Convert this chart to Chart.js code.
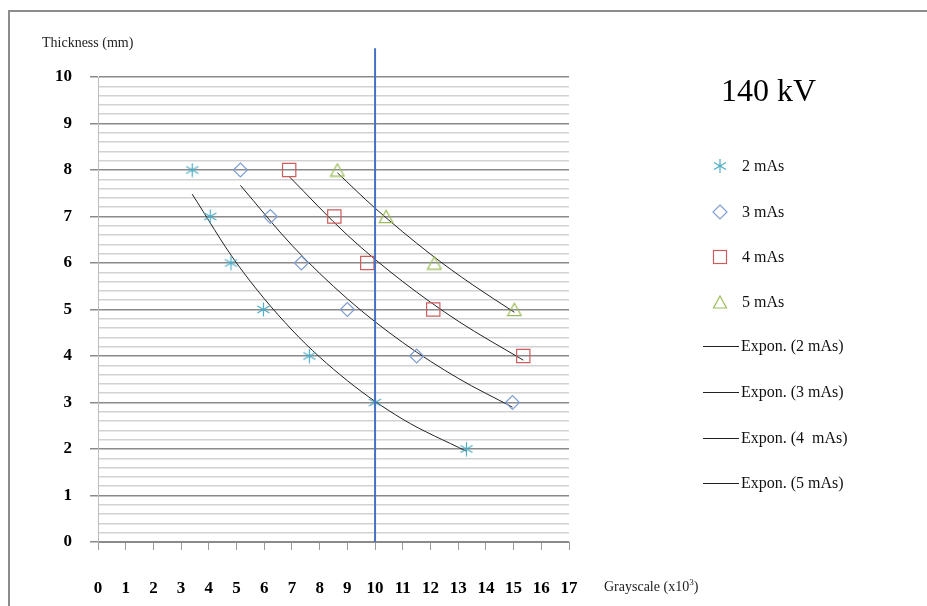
<!DOCTYPE html>
<html>
<head>
<meta charset="utf-8">
<script src="https://cdn.jsdelivr.net/npm/chart.js@4.4.1/dist/chart.umd.min.js"></script>
<style>
  html, body { margin: 0; padding: 0; background: #fff; }
  #wrap { position: relative; width: 927px; height: 606px; overflow: hidden; font-family: "Liberation Serif", "DejaVu Serif", serif; }
  #frame { position: absolute; left: 8px; top: 10px; width: 1000px; height: 700px; border-left: 2px solid #8c8c8c; border-top: 2px solid #8c8c8c; }
  #chart { position: absolute; left: 0; top: 0; }
  .txt { position: absolute; white-space: nowrap; color: #222; }
  .leg { position: absolute; left: 703px; height: 20px; display: flex; align-items: center; font-size: 16px; color: #111; }
  .leg svg { display: block; }
</style>
</head>
<body>
<div id="wrap">
  <div id="frame"></div>
  <canvas id="chart" width="927" height="606"></canvas>
  <div class="txt" style="left:42px; top:35px; font-size:14px;">Thickness (mm)</div>
  <div class="txt" style="left:604px; top:577px; font-size:14px;">Grayscale (x10<sup style="font-size:9px;">3</sup>)</div>
  <div class="txt" style="left:721px; top:72px; font-size:32px; color:#000;">140 kV</div>
  <div id="legend"></div>
</div>
<script>
// 데이터: 두께(mm)와 mAs별 그레이스케일(x10^3)
const thickness = [8, 7, 6, 5, 4, 3, 2];
const gray2mAs = [3.4, 4.05, 4.8, 5.97, 7.63, 10.0, 13.3];
const gray3mAs = [5.14, 6.22, 7.34, 9.0, 11.5, 14.96];
const gray4mAs = [6.9, 8.53, 9.72, 12.1, 15.35];
const gray5mAs = [8.64, 10.4, 12.14, 15.03];

// 추세선 (Expon.) - 그림에서 읽은 값
const trend2X = [3.4, 5, 7, 9, 11, 13.3];
const trend2Y = [7.48, 6.0, 4.56, 3.47, 2.64, 1.95];
const trend3X = [5.14, 7, 9, 11, 13, 14.96];
const trend3Y = [7.67, 6.38, 5.23, 4.29, 3.52, 2.9];
const trend4X = [6.9, 9, 11, 13, 15.35];
const trend4Y = [7.86, 6.6, 5.6, 4.75, 3.91];
const trend5X = [8.64, 10, 12, 13.5, 15.03];
const trend5Y = [7.94, 7.18, 6.19, 5.54, 4.94];

// 기준선 x = 10
const refLineX = [10, 10];
const refLineY = [0, 10.62];

const xTicks = [0, 1, 2, 3, 4, 5, 6, 7, 8, 9, 10, 11, 12, 13, 14, 15, 16, 17];
const yTicks = [0, 1, 2, 3, 4, 5, 6, 7, 8, 9, 10];

const seriesNames = ["2 mAs", "3 mAs", "4 mAs", "5 mAs"];
const trendNames = ["Expon. (2 mAs)", "Expon. (3 mAs)", "Expon. (4  mAs)", "Expon. (5 mAs)"];
const colors = ["#4BACC6", "#7F9ED2", "#CD5C5C", "#9BBB59"];

function pts(xs, ys) {
  return xs.map((x, i) => ({ x: x, y: ys[i] }));
}

// 별표 마커 (6방향)
function makeAsterisk(color) {
  const c = document.createElement("canvas");
  c.width = 15; c.height = 15;
  const g = c.getContext("2d");
  g.strokeStyle = color;
  g.lineWidth = 1.2;
  g.beginPath();
  for (let k = 0; k < 3; k++) {
    const a = Math.PI / 2 + k * Math.PI / 3;
    g.moveTo(7.5 + Math.cos(a) * 7, 7.5 - Math.sin(a) * 7);
    g.lineTo(7.5 - Math.cos(a) * 7, 7.5 + Math.sin(a) * 7);
  }
  g.stroke();
  return c;
}

// 삼각형 마커 (박스 중심 정렬)
function makeTriangle(color) {
  const c = document.createElement("canvas");
  c.width = 16; c.height = 15;
  const g = c.getContext("2d");
  g.strokeStyle = color;
  g.lineWidth = 1.2;
  g.beginPath();
  g.moveTo(8, 1.2);
  g.lineTo(14.8, 13.6);
  g.lineTo(1.2, 13.6);
  g.closePath();
  g.stroke();
  return c;
}
const asterisk = makeAsterisk(colors[0]);
const triangle = makeTriangle(colors[3]);

function markerDs(label, xs, ys, style, color, radius) {
  return {
    label: label,
    data: pts(xs, ys),
    showLine: false,
    pointStyle: style,
    pointRadius: radius,
    pointHoverRadius: radius,
    pointBorderColor: color,
    pointBackgroundColor: "rgba(0,0,0,0)",
    pointBorderWidth: 1.2,
    order: 1
  };
}

function trendDs(label, xs, ys) {
  return {
    label: label,
    data: pts(xs, ys),
    showLine: true,
    borderColor: "#222",
    borderWidth: 1,
    pointRadius: 0,
    tension: 0.4,
    cubicInterpolationMode: "monotone",
    order: 2
  };
}

const datasets = [
  markerDs(seriesNames[0], gray2mAs, thickness, asterisk, colors[0], 7),
  markerDs(seriesNames[1], gray3mAs, thickness.slice(0, gray3mAs.length), "rectRot", colors[1], 7),
  markerDs(seriesNames[2], gray4mAs, thickness.slice(0, gray4mAs.length), "rect", colors[2], 9.4),
  markerDs(seriesNames[3], gray5mAs, thickness.slice(0, gray5mAs.length), triangle, colors[3], 7.7),
  trendDs(trendNames[0], trend2X, trend2Y),
  trendDs(trendNames[1], trend3X, trend3Y),
  trendDs(trendNames[2], trend4X, trend4Y),
  trendDs(trendNames[3], trend5X, trend5Y),
  {
    label: "ref",
    data: pts(refLineX, refLineY),
    showLine: true,
    borderColor: "#4472C4",
    borderWidth: 2,
    pointRadius: 0,
    clip: false,
    order: 0
  }
];

const isInt = v => Math.abs(v - Math.round(v)) < 1e-6;

new Chart(document.getElementById("chart"), {
  type: "scatter",
  data: { datasets: datasets },
  options: {
    responsive: false,
    animation: false,
    events: [],
    layout: { padding: { left: 0, top: 77, right: 358, bottom: 0 } },
    plugins: { legend: { display: false }, tooltip: { enabled: false } },
    scales: {
      x: {
        type: "linear",
        min: xTicks[0],
        max: xTicks[xTicks.length - 1],
        afterFit: s => { s.height = 64; },
        afterBuildTicks: s => { s.ticks = xTicks.map(v => ({ value: v })); },
        ticks: {
          autoSkip: false,
          maxRotation: 0,
          padding: 28,
          color: "#000",
          font: { family: "Liberation Serif", size: 17, weight: "bold" }
        },
        grid: { drawOnChartArea: false, tickLength: 8, tickColor: "#9a9a9a", lineWidth: 1 },
        border: { color: "#8c8c8c", width: 1 }
      },
      y: {
        type: "linear",
        min: yTicks[0],
        max: yTicks[yTicks.length - 1],
        afterFit: s => { s.width = 98; },
        ticks: {
          stepSize: 0.2,
          autoSkip: false,
          maxTicksLimit: 100,
          padding: 18,
          color: "#000",
          font: { family: "Liberation Serif", size: 17, weight: "bold" },
          callback: v => (isInt(v) && yTicks.includes(Math.round(v)) ? String(Math.round(v)) : "")
        },
        grid: {
          tickLength: 8,
          color: c => (isInt(c.tick.value) ? "#8a8a8a" : "#d2d2d2"),
          tickColor: c => (isInt(c.tick.value) ? "#8a8a8a" : "rgba(0,0,0,0)"),
          lineWidth: 1.5
        },
        border: { color: "#bdbdbd", width: 1 }
      }
    }
  }
});

// 범례 (HTML)
const legendBox = document.getElementById("legend");
const legendY = [166, 212, 257, 302, 346, 392, 438, 483];

function markerSvg(i) {
  const col = colors[i];
  let shape = "";
  if (i === 0) {
    shape = '<line x1="8" y1="1" x2="8" y2="15" stroke="' + col + '" stroke-width="1.2"/>' +
      '<line x1="2" y1="4.5" x2="14" y2="11.5" stroke="' + col + '" stroke-width="1.2"/>' +
      '<line x1="2" y1="11.5" x2="14" y2="4.5" stroke="' + col + '" stroke-width="1.2"/>';
  } else if (i === 1) {
    shape = '<polygon points="8,1 15,8 8,15 1,8" fill="none" stroke="' + col + '" stroke-width="1.2"/>';
  } else if (i === 2) {
    shape = '<rect x="1.5" y="1.5" width="13" height="13" fill="none" stroke="' + col + '" stroke-width="1.2"/>';
  } else {
    shape = '<polygon points="8,2 14.5,14 1.5,14" fill="none" stroke="' + col + '" stroke-width="1.2"/>';
  }
  return '<svg width="16" height="16" viewBox="0 0 16 16">' + shape + '</svg>';
}

seriesNames.forEach(function (name, i) {
  const d = document.createElement("div");
  d.className = "leg";
  d.style.top = (legendY[i] - 10) + "px";
  d.style.left = "712px";
  d.innerHTML = markerSvg(i) + '<span style="margin-left:14px;">' + name + "</span>";
  legendBox.appendChild(d);
});

trendNames.forEach(function (name, i) {
  const d = document.createElement("div");
  d.className = "leg";
  d.style.top = (legendY[i + 4] - 10) + "px";
  d.innerHTML = '<span style="display:inline-block;width:36px;height:1px;background:#222;"></span>' +
    '<span style="margin-left:2px;">' + name.replace("  ", "\u00a0 ") + "</span>";
  legendBox.appendChild(d);
});
</script>
</body>
</html>
